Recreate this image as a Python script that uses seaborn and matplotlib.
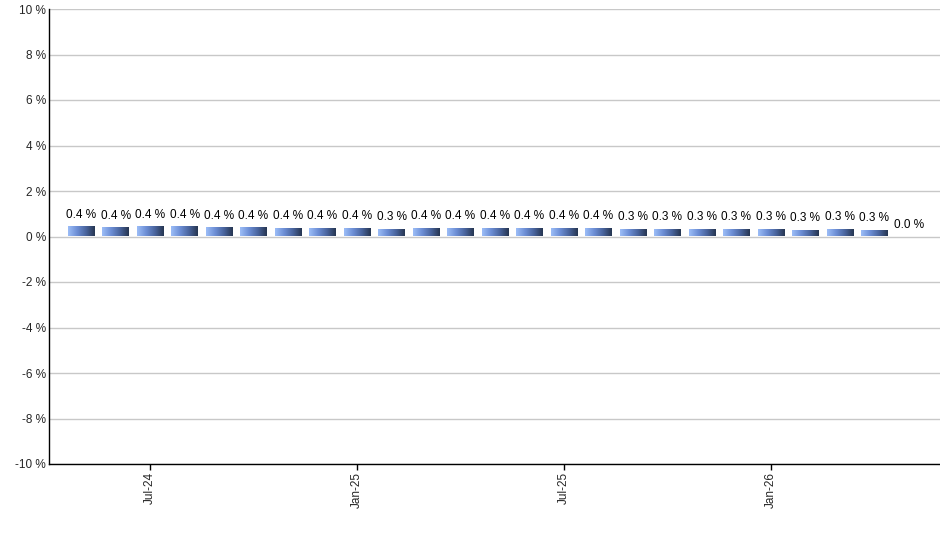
import numpy as np
import pandas as pd
import matplotlib
matplotlib.use("Agg")
import matplotlib.pyplot as plt
from matplotlib.colors import LinearSegmentedColormap
import seaborn as sns

# monthly values, May-24 .. May-26
months = ["May-24", "Jun-24", "Jul-24", "Aug-24", "Sep-24", "Oct-24", "Nov-24", "Dec-24",
          "Jan-25", "Feb-25", "Mar-25", "Apr-25", "May-25", "Jun-25", "Jul-25", "Aug-25",
          "Sep-25", "Oct-25", "Nov-25", "Dec-25", "Jan-26", "Feb-26", "Mar-26", "Apr-26",
          "May-26"]
values = [0.44, 0.41, 0.44, 0.44, 0.41, 0.41, 0.38, 0.38,
          0.38, 0.34, 0.38, 0.38, 0.38, 0.38, 0.38, 0.38,
          0.34, 0.34, 0.34, 0.34, 0.34, 0.30, 0.34, 0.30,
          0.0]
tick_labels = ["Jul-24", "Jan-25", "Jul-25", "Jan-26"]

df = pd.DataFrame({"month": months, "value": values})

sns.set_style("white")
plt.rcParams["font.family"] = ["Liberation Sans", "DejaVu Sans"]

fig = plt.figure(figsize=(9.4, 5.5), dpi=100)
ax = fig.add_axes([49 / 940, 1 - 464 / 550, 1 - 49 / 940, (464 - 9) / 550])

sns.barplot(data=df, x="month", y="value", order=months, color="#6f8fd0",
            width=0.78, ax=ax, zorder=3)

# horizontal gradient fill for each bar
grad = LinearSegmentedColormap.from_list("bar", ["#9cbdf7", "#6d8fd6", "#4a659e", "#263652"])
g = np.linspace(0, 1, 64).reshape(1, -1)
for p in ax.patches:
    h = p.get_height()
    if h == 0:
        p.set_visible(False)
        continue
    x0 = p.get_x()
    w = p.get_width()
    im = ax.imshow(g, cmap=grad, aspect="auto", extent=[x0, x0 + w, 0, h],
                   zorder=3, interpolation="bicubic")
    im.set_clip_path(p)
    p.set_facecolor("none")
    p.set_edgecolor("none")

for i, v in enumerate(values):
    ax.annotate(f"{v:.1f} %", (i, v), xytext=(0, 4), textcoords="offset points",
                ha="center", va="bottom", fontsize=8.5, color="black")

ax.set_ylim(-10, 10)
ax.set_xlim(-0.93, 24.9)
ax.set_yticks(np.arange(-10, 11, 2))
ax.set_yticklabels([f"{t} %" for t in range(-10, 11, 2)], fontsize=8.5)
ax.set_xticks([months.index(t) for t in tick_labels])
ax.set_xticklabels(tick_labels, rotation=90, fontsize=8.5)
ax.tick_params(axis="x", length=4, width=1, color="black", direction="out",
               bottom=True, pad=2)
ax.tick_params(axis="y", length=0, left=False, pad=2)
ax.yaxis.grid(True, color="#c8c8c8", linewidth=1, zorder=0)
ax.set_axisbelow(True)
ax.set_xlabel("")
ax.set_ylabel("")
for s in ["top", "right"]:
    ax.spines[s].set_visible(False)
for s in ["left", "bottom"]:
    ax.spines[s].set_color("black")
    ax.spines[s].set_linewidth(1)

fig.savefig("out.png", dpi=100, facecolor="white")
